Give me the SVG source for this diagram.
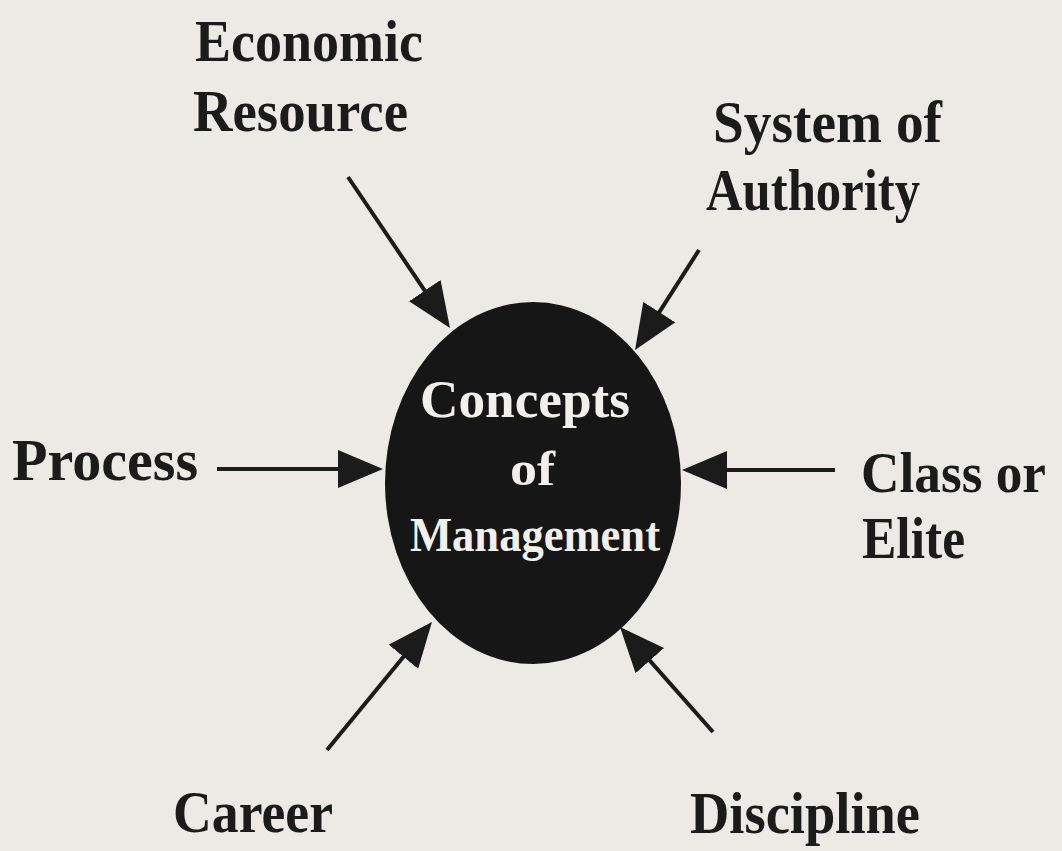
<svg xmlns="http://www.w3.org/2000/svg" width="1062" height="851" viewBox="0 0 1062 851">
<style>
.lbl{font-family:"Liberation Serif","Times New Roman",serif;font-weight:bold;fill:#1b1b1b}
.in{font-family:"Liberation Serif","Times New Roman",serif;font-weight:bold;fill:#f2f0ea}
.ar{stroke:#1b1b1b;stroke-width:4;fill:none;marker-end:url(#ah)}
</style>
<defs>
<marker id="ah" viewBox="0 0 45 38" refX="5" refY="19" markerWidth="45" markerHeight="38" markerUnits="userSpaceOnUse" orient="auto">
<path d="M0,0 L45,19 L0,38 z" fill="#1b1b1b"/>
</marker>
</defs>
<rect width="1062" height="851" fill="#ebeae5"/>
<g id="center">
<ellipse cx="533" cy="483" rx="148" ry="181" fill="#161616"/>
<text class="in" x="420" y="417" font-size="53" textLength="210" lengthAdjust="spacingAndGlyphs">Concepts</text>
<text class="in" x="510" y="485" font-size="48" textLength="45" lengthAdjust="spacingAndGlyphs">of</text>
<text class="in" x="410" y="551" font-size="49" textLength="250" lengthAdjust="spacingAndGlyphs">Management</text>
</g>
<g id="economic">
<text class="lbl" x="195" y="61" font-size="59" textLength="228" lengthAdjust="spacingAndGlyphs">Economic</text>
<text class="lbl" x="193" y="131" font-size="59" textLength="215" lengthAdjust="spacingAndGlyphs">Resource</text>
</g>
<g id="authority">
<text class="lbl" x="713" y="142" font-size="59" textLength="229" lengthAdjust="spacingAndGlyphs">System of</text>
<text class="lbl" x="706" y="210" font-size="59" textLength="214" lengthAdjust="spacingAndGlyphs">Authority</text>
</g>
<g id="process">
<text class="lbl" x="12" y="480" font-size="59" textLength="186" lengthAdjust="spacingAndGlyphs">Process</text>
</g>
<g id="class">
<text class="lbl" x="861" y="492" font-size="56" textLength="185" lengthAdjust="spacingAndGlyphs">Class or</text>
<text class="lbl" x="862" y="558" font-size="59" textLength="103" lengthAdjust="spacingAndGlyphs">Elite</text>
</g>
<g id="career">
<text class="lbl" x="173" y="832" font-size="59" textLength="160" lengthAdjust="spacingAndGlyphs">Career</text>
</g>
<g id="discipline">
<text class="lbl" x="690" y="833" font-size="59" textLength="230" lengthAdjust="spacingAndGlyphs">Discipline</text>
</g>
<g id="connectors">
<line class="ar" x1="348" y1="177" x2="427.6" y2="294.8"/>
<line class="ar" x1="699" y1="250" x2="656.6" y2="316.3"/>
<line class="ar" x1="217" y1="469" x2="343" y2="469"/>
<line class="ar" x1="835" y1="470" x2="722" y2="470"/>
<line class="ar" x1="327" y1="750" x2="406.6" y2="652.9"/>
<line class="ar" x1="713" y1="732" x2="646.5" y2="656.9"/>
</g>
</svg>
